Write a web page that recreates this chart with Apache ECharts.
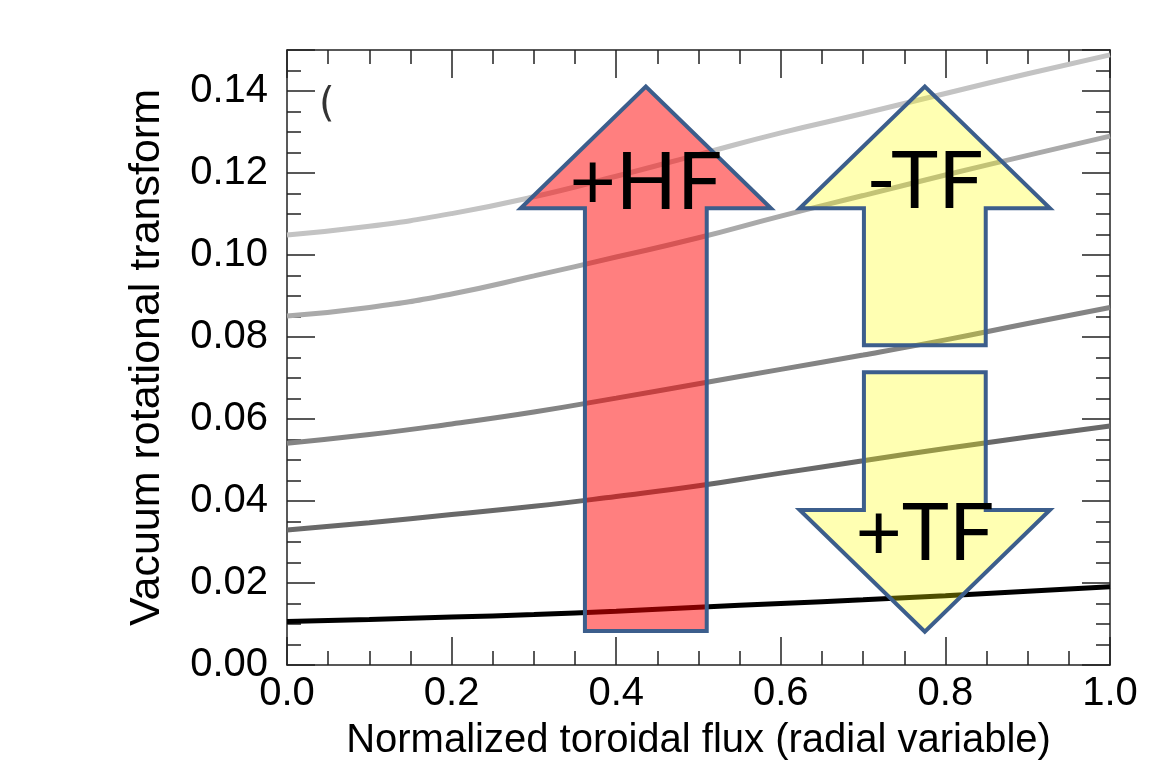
<!DOCTYPE html>
<html>
<head>
<meta charset="utf-8">
<script src="https://cdn.jsdelivr.net/npm/echarts@6/dist/echarts.min.js"></script>
<style>
  html, body { margin: 0; padding: 0; background: #fff; }
  #chart { width: 1153px; height: 766px; }
</style>
</head>
<body>
<div id="chart"></div>
<script>
// Radial grid (normalized toroidal flux)
const flux = [0, 0.1, 0.2, 0.3, 0.4, 0.5, 0.6, 0.7, 0.8, 0.9, 1.0];

// Vacuum rotational transform profiles for five coil-current settings
const iotaA = [0.1049, 0.1070, 0.1101, 0.1142, 0.1192, 0.1245, 0.1298, 0.1345, 0.1394, 0.1442, 0.1488];
const iotaB = [0.0851, 0.0872, 0.0905, 0.0949, 0.0995, 0.1042, 0.1095, 0.1145, 0.1195, 0.1243, 0.1290];
const iotaC = [0.0541, 0.0562, 0.0588, 0.0617, 0.0651, 0.0686, 0.0721, 0.0756, 0.0793, 0.0833, 0.0872];
const iotaD = [0.0329, 0.0347, 0.0367, 0.0387, 0.0411, 0.0437, 0.0468, 0.0498, 0.0528, 0.0556, 0.0583];
const iotaE = [0.0106, 0.0111, 0.0117, 0.0123, 0.0131, 0.0141, 0.0150, 0.0159, 0.0169, 0.0180, 0.0191];

const xTicks = [0.0, 0.2, 0.4, 0.6, 0.8, 1.0];
const yTicks = [0.00, 0.02, 0.04, 0.06, 0.08, 0.10, 0.12, 0.14];

// Annotation arrows in data space: label, centre, tail, head base, tip
const arrowLabels = ['+HF', '-TF', '+TF'];
const arrowCentre = [0.436, 0.775, 0.775];
const arrowTail   = [0.0083, 0.0780, 0.0714];
const arrowBase   = [0.1114, 0.1114, 0.0378];
const arrowTip    = [0.1411, 0.1411, 0.0081];
const arrowTextY  = [0.1176, 0.1178, 0.0320];

const profiles = [iotaA, iotaB, iotaC, iotaD, iotaE];
const profileColors = ['#c3c3c3', '#aaaaaa', '#848484', '#696969', '#000000'];
const arrowFills = ['rgba(255,0,0,0.5)', 'rgba(255,255,0,0.3)', 'rgba(255,255,0,0.3)'];
const SHAFT_HALF = 0.074, HEAD_HALF = 0.152;

const FONT = '"Liberation Sans", Arial, Helvetica, sans-serif';

const chart = echarts.init(document.getElementById('chart'), null, { renderer: 'canvas' });

const lineSeries = profiles.map((p, i) => ({
  type: 'line',
  data: flux.map((x, k) => [x, p[k]]),
  smooth: true,
  showSymbol: false,
  symbol: 'none',
  lineStyle: { color: profileColors[i], width: 5 },
  z: 2,
  silent: true
}));

const arrowData = arrowLabels.map((t, i) => [arrowCentre[i], arrowTail[i], arrowBase[i], arrowTip[i], arrowTextY[i], i]);

const arrowSeries = {
  type: 'custom',
  data: arrowData,
  z: 5,
  silent: true,
  clip: false,
  renderItem: function (params, api) {
    const cx = api.value(0), tail = api.value(1), base = api.value(2), tip = api.value(3), ty = api.value(4);
    const idx = api.value(5);
    const pts = [
      [cx - SHAFT_HALF, tail], [cx - SHAFT_HALF, base], [cx - HEAD_HALF, base],
      [cx, tip],
      [cx + HEAD_HALF, base], [cx + SHAFT_HALF, base], [cx + SHAFT_HALF, tail]
    ].map(p => api.coord(p));
    const tp = api.coord([cx, ty]);
    return {
      type: 'group',
      children: [
        {
          type: 'polygon',
          shape: { points: pts },
          style: { fill: arrowFills[idx], stroke: '#3c5e8c', lineWidth: 4, lineJoin: 'miter' }
        },
        {
          type: 'text',
          x: tp[0], y: tp[1],
          style: {
            text: arrowLabels[idx],
            fill: '#000',
            font: '80px Lato, "Open Sans", sans-serif',
            align: 'center',
            verticalAlign: 'middle'
          }
        }
      ]
    };
  }
};

const axisLineStyle = { color: '#222', width: 1.5 };
const baseX = {
  type: 'value', min: 0, max: 1, interval: 0.2,
  axisLine: { show: true, onZero: false, lineStyle: axisLineStyle },
  axisTick: { show: true, inside: true, length: 28, lineStyle: axisLineStyle },
  minorTick: { show: true, splitNumber: 4, length: 14, lineStyle: axisLineStyle },
  splitLine: { show: false }, minorSplitLine: { show: false }
};
const baseY = {
  type: 'value', min: 0, max: 0.15, interval: 0.02,
  axisLine: { show: true, onZero: false, lineStyle: axisLineStyle },
  axisTick: { show: true, inside: true, length: 28, lineStyle: axisLineStyle },
  minorTick: { show: true, splitNumber: 4, length: 14, lineStyle: axisLineStyle },
  splitLine: { show: false }, minorSplitLine: { show: false }
};

chart.setOption({
  animation: false,
  backgroundColor: '#ffffff',
  grid: { left: 287, right: 43, top: 50, bottom: 101, containLabel: false },
  xAxis: [
    Object.assign({}, baseX, {
      position: 'bottom',
      name: 'Normalized toroidal flux (radial variable)',
      nameLocation: 'middle', nameGap: 56,
      nameTextStyle: { fontFamily: FONT, fontSize: 40, color: '#000' },
      axisLabel: {
        show: true, margin: 9, fontFamily: FONT, fontSize: 40, color: '#000',
        formatter: v => xTicks.some(t => Math.abs(t - v) < 1e-9) ? v.toFixed(1) : ''
      }
    }),
    Object.assign({}, baseX, { position: 'top', axisLabel: { show: false } })
  ],
  yAxis: [
    Object.assign({}, baseY, {
      position: 'left',
      name: 'Vacuum rotational transform',
      nameLocation: 'middle', nameGap: 118,
      nameTextStyle: { fontFamily: FONT, fontSize: 43, color: '#000' },
      axisLabel: {
        show: true, margin: 19, fontFamily: FONT, fontSize: 40, color: '#000',
        showMaxLabel: false,
        formatter: v => yTicks.some(t => Math.abs(t - v) < 1e-9) ? v.toFixed(2) : ''
      }
    }),
    Object.assign({}, baseY, { position: 'right', axisLabel: { show: false } })
  ],
  graphic: [
    {
      type: 'text', left: 319, top: 86,
      style: { text: '(', font: '40px "DejaVu Sans", sans-serif', fill: '#000', opacity: 0.8 }
    }
  ],
  series: lineSeries.concat([arrowSeries])
});
</script>
</body>
</html>
